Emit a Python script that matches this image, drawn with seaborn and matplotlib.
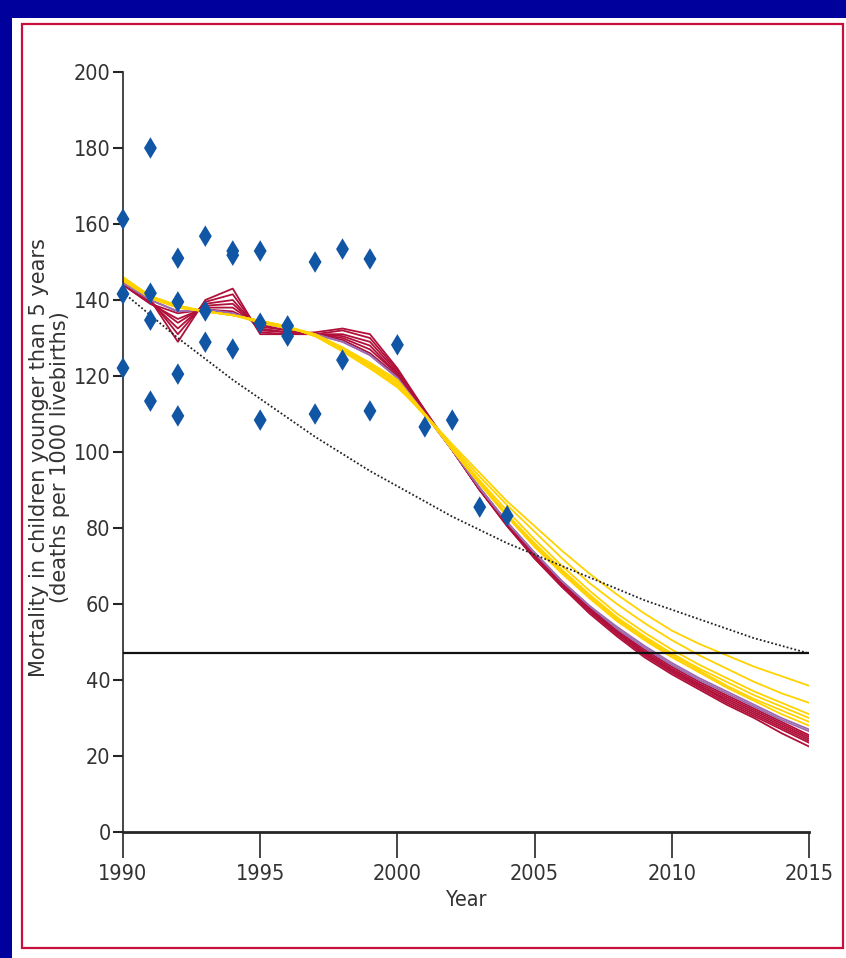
import matplotlib
matplotlib.use("Agg")
import matplotlib.pyplot as plt
import matplotlib.patches as patches
from matplotlib import font_manager
import seaborn as sns
import pandas as pd

years = list(range(1990, 2016))

# observed survey points
obs_year = [1990, 1990, 1990, 1991, 1991, 1991, 1991, 1992, 1992, 1992, 1992,
            1993, 1993, 1993, 1994, 1994, 1994, 1995, 1995, 1995, 1996, 1996,
            1997, 1997, 1998, 1998, 1999, 1999, 2000, 2001, 2002, 2003, 2004]
obs_value = [161.3, 141.6, 122.1, 180, 141.8, 134.7, 113.4, 151, 139.5, 120.5, 109.5,
             156.8, 137.1, 128.9, 152.9, 151.8, 127.1, 152.9, 133.9, 108.4, 133.2, 130.5,
             150, 110, 153.4, 124.2, 150.8, 110.8, 128.2, 106.6, 108.4, 85.5, 83.2]

# model runs, one value per year 1990-2015
red_runs = [
    [145, 140, 129, 140, 143, 131, 131, 131.5, 132.5, 131, 122, 111, 100.5, 90, 80.5,
     72, 64.5, 57.5, 51.5, 46, 41.5, 37.5, 33.5, 30, 26, 22.5],
    [145, 140, 131, 139.5, 141.5, 131.5, 131, 131, 132, 130, 121.5, 111, 100.5, 90, 80.5,
     72, 64.5, 58, 52, 46.5, 42, 38, 34, 30.5, 27, 23.5],
    [144.5, 139.5, 132.5, 139, 140, 132, 131.5, 131, 131, 129, 121, 110.5, 100.5, 90, 81,
     72.5, 65, 58.5, 52.5, 47, 42.5, 38.5, 34.5, 31, 27.5, 24],
    [144.5, 139.5, 134, 138.5, 139, 132.5, 131.5, 131, 130.5, 128, 120.5, 110.5, 100.5, 90, 81,
     72.5, 65, 58.5, 52.5, 47, 42.5, 38.5, 35, 31.5, 28, 24.5],
    [144, 139, 135, 138, 138, 133, 132, 131, 130, 127, 120.5, 110.5, 100.5, 90, 81,
     72.5, 65.5, 59, 53, 47.5, 43, 39, 35.5, 32, 28.5, 25],
    [144, 139, 136.5, 137.5, 137, 133.5, 132, 131, 129.5, 126, 120, 110, 100.5, 90.5, 81.5,
     73, 65.5, 59, 53, 48, 43.5, 39.5, 36, 32.5, 29, 25.5],
]
purple_runs = [
    [144.5, 140, 137, 137.5, 136.5, 134, 132.5, 131, 129, 125.5, 119.5, 110, 100.5, 90.5, 81.5,
     73.5, 66, 59.5, 54, 49, 44.5, 40.5, 37, 33.5, 30, 27],
    [144.5, 140, 137, 137.5, 136.5, 134, 132.5, 131, 129, 125.5, 119.5, 110, 100.5, 90.5, 81.5,
     73.5, 66, 59.5, 53.5, 48.5, 44, 40, 36.5, 33, 29.5, 26.5],
]
yellow_runs = [
    [146, 141, 138.5, 137, 136, 134.5, 133, 130.5, 126.5, 122, 117, 110, 102, 94.5, 87,
     80.5, 74, 68, 62.5, 57.5, 53, 49.5, 46.5, 43.5, 41, 38.5],
    [146, 141, 138.5, 137, 136, 134.5, 133, 130.5, 126.5, 122, 117.5, 109.5, 101.5, 93.5, 86,
     79, 72, 65.5, 60, 55, 50.5, 46.5, 43, 39.5, 36.5, 34],
    [145.5, 141, 138.5, 137, 136, 134.5, 133, 130.5, 127, 122.5, 118, 110, 101, 92.5, 84.5,
     77, 70, 63.5, 57.5, 52.5, 48, 44, 40.5, 37, 34, 31],
    [145.5, 140.5, 138, 137, 136, 134.5, 133, 130.5, 127, 123, 118.5, 110, 101, 92, 83.5,
     76, 69, 62.5, 56.5, 51.5, 47, 43, 39.5, 36, 33, 30],
    [145.5, 140.5, 138, 137, 136, 134.5, 133, 131, 127.5, 123, 118.5, 110, 101, 92, 83.5,
     75.5, 68.5, 62, 56, 51, 46.5, 42.5, 38.5, 35, 32, 29],
    [145, 140.5, 138, 137, 136, 134, 132.5, 131, 127.5, 123.5, 119, 110, 100.5, 91.5, 83,
     75, 68, 61.5, 55.5, 50.5, 46, 42, 38, 34.5, 31, 28],
]

# simple trend and target
trend = [142, 136, 130, 124.5, 119, 114, 109, 104, 99.5, 95, 91, 87, 83, 79.5, 76,
         73, 70, 67, 64, 61, 58.5, 56, 53.5, 51, 49, 47]
target = 47

rows = []
for grp, runs in [("red", red_runs), ("purple", purple_runs), ("yellow", yellow_runs)]:
    for i, run in enumerate(runs):
        for yr, v in zip(years, run):
            rows.append({"group": grp, "run": f"{grp}{i}", "year": yr, "value": v})
runs_df = pd.DataFrame(rows)
obs_df = pd.DataFrame({"year": obs_year, "value": obs_value})
trend_df = pd.DataFrame({"year": years, "value": trend})

sns.set_style("ticks")
plt.rcParams['font.family'] = ['DejaVu Sans']
narrow = font_manager.FontProperties(family="DejaVu Sans", stretch="condensed", size=15.5)

fig = plt.figure(figsize=(8.46, 9.58), dpi=100)
fig.patch.set_facecolor("#00009c")
fig.add_artist(patches.Rectangle((12 / 846, 0), 1, 940 / 958, transform=fig.transFigure,
                                 facecolor="white", edgecolor="none", zorder=-3))
fig.add_artist(patches.Rectangle((22 / 846, 10 / 958), 821 / 846, 924 / 958,
                                 transform=fig.transFigure, facecolor="none",
                                 edgecolor="#c8103e", lw=1.6, zorder=-2))

ax = fig.add_axes([123 / 846, 1 - 832 / 958, 686 / 846, 760 / 958])
ax.set_facecolor("none")

pal = {"red": "#b0103a", "purple": "#9c6bb0", "yellow": "#ffd200"}
sns.lineplot(data=runs_df, x="year", y="value", hue="group", units="run", estimator=None,
             palette=pal, hue_order=["red", "purple", "yellow"], lw=1.3, legend=False, ax=ax)
sns.lineplot(data=trend_df, x="year", y="value", color="#222222", lw=1.3, ls=(0, (1, 1.2)),
             ax=ax)
ax.axhline(target, color="#111111", lw=1.6, zorder=3)
sns.scatterplot(data=obs_df, x="year", y="value", marker="d", s=120, color="#1155a5",
                edgecolor="none", zorder=5, clip_on=False, ax=ax)

ax.set_xlim(1990, 2015)
ax.set_ylim(0, 200)
ax.set_xticks(range(1990, 2016, 5))
ax.set_yticks(range(0, 201, 20))
sns.despine(ax=ax)
ax.spines["left"].set_linewidth(1.2)
ax.spines["bottom"].set_linewidth(2)
ax.tick_params(axis="y", length=7, width=1.5, labelcolor="#333333", pad=2)
ax.tick_params(axis="x", length=19, width=1.2, labelcolor="#333333", pad=4)
for lab in ax.get_xticklabels() + ax.get_yticklabels():
    lab.set_fontproperties(narrow)

ax.set_xlabel("Year", fontproperties=narrow, color="#333333", labelpad=4)
ax.set_ylabel("Mortality in children younger than 5 years\n(deaths per 1000 livebirths)",
              fontsize=15, color="#333333", linespacing=1.05)
ax.yaxis.set_label_coords(-0.077, 0.493)

fig.savefig("out.png", dpi=100, facecolor=fig.get_facecolor())
